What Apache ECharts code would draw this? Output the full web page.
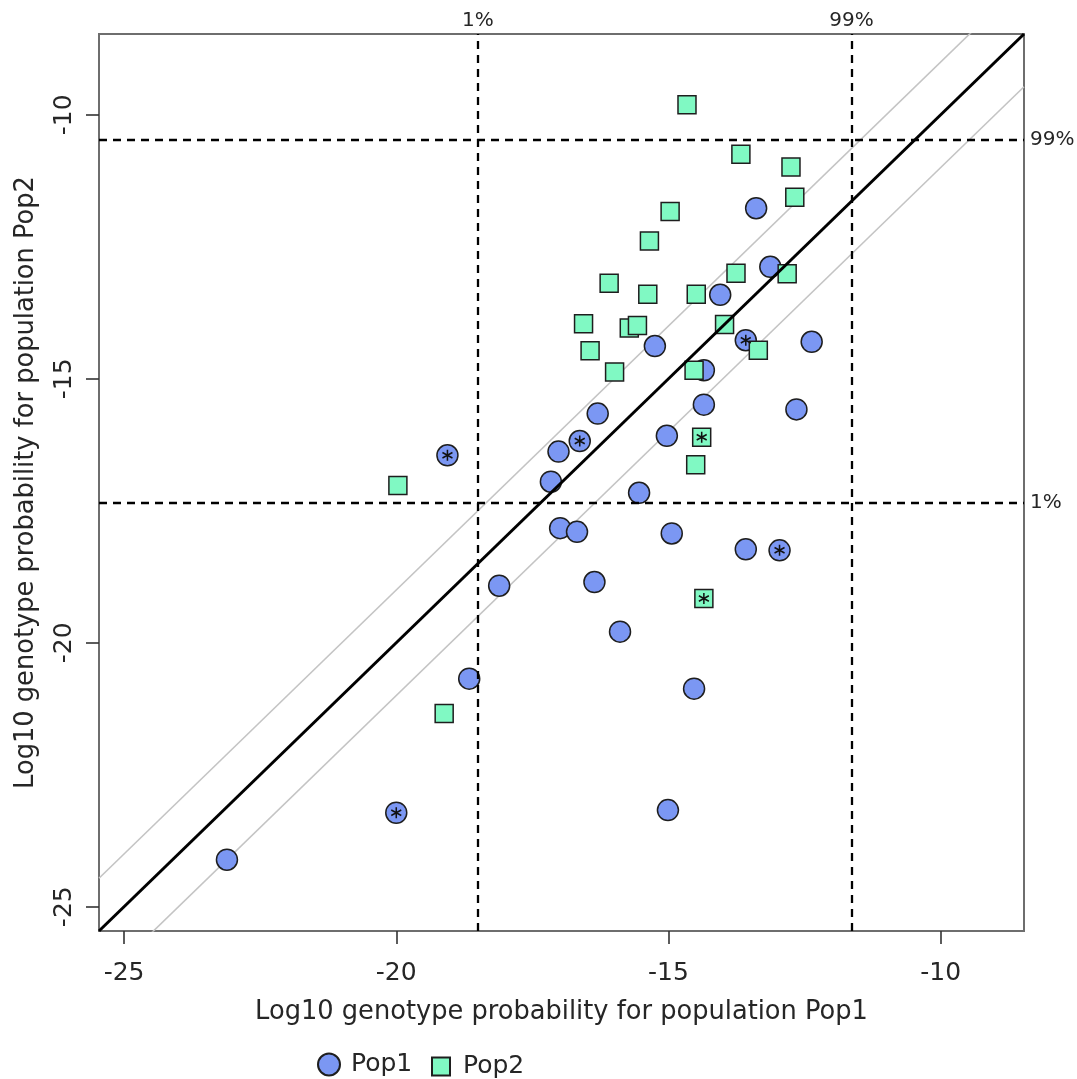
<!DOCTYPE html>
<html>
<head>
<meta charset="utf-8">
<script src="https://cdn.jsdelivr.net/npm/echarts@6/dist/echarts.min.js"></script>
<style>
  html, body { margin: 0; padding: 0; background: #fff; }
  #chart { width: 1077px; height: 1079px; }
</style>
</head>
<body>
<div id="chart"></div>
<script>
// log10 genotype probabilities, one point per individual
var pop1X = [-13.39, -13.13, -14.05, -13.58, -12.37, -15.25, -14.35, -14.35, -12.65, -16.30,
  -15.03, -16.63, -17.02, -17.16, -15.54, -16.99, -16.68, -14.94, -13.58, -12.96,
  -16.36, -15.89, -14.53, -15.01, -19.06, -18.11, -18.66, -20.00, -23.11];
var pop1Y = [-11.77, -12.88, -13.41, -14.27, -14.30, -14.38, -14.84, -15.49, -15.58, -15.66,
  -16.08, -16.18, -16.38, -16.95, -17.16, -17.83, -17.90, -17.93, -18.23, -18.25,
  -18.85, -19.79, -20.87, -23.17, -16.45, -18.92, -20.68, -23.22, -24.11];
var pop2X = [-14.66, -13.67, -12.75, -12.68, -14.97, -15.35, -13.76, -12.82, -16.09, -15.38,
  -14.49, -16.56, -15.72, -15.57, -13.97, -16.44, -13.35, -15.99, -14.53, -14.39,
  -14.50, -19.97, -19.12, -14.35];
var pop2Y = [-9.81, -10.75, -10.99, -11.56, -11.83, -12.39, -13.00, -13.01, -13.19, -13.40,
  -13.40, -13.96, -14.04, -13.99, -13.97, -14.47, -14.46, -14.87, -14.84, -16.11,
  -16.63, -17.02, -21.34, -19.16];
// indices of points marked with an asterisk
var pop1Flagged = [3, 11, 19, 24, 27];
var pop2Flagged = [19, 23];

// 1% / 99% quantile thresholds
var pop1Quantiles = [-18.50, -11.64];
var pop2Quantiles = [-17.35, -10.47];
var quantileLabels = ["1%", "99%"];

var tickValues = [-25, -20, -15, -10];
var axisMin = -25.46;
var axisMax = -8.47;
var bandOffsets = [-1, 1];

var FONT = "DejaVu Sans";
var TEXT = "#262626";

function pairs(xs, ys) {
  var out = [];
  for (var i = 0; i < xs.length; i++) out.push([xs[i], ys[i]]);
  return out;
}
function pick(xs, ys, idx) {
  return idx.map(function (i) { return [xs[i], ys[i]]; });
}
function diag(off) {
  return [[axisMin, axisMin + off], [axisMax, axisMax + off]];
}

var quantileLines = [];
for (var i = 0; i < 2; i++) {
  quantileLines.push({ xAxis: pop1Quantiles[i], label: { formatter: quantileLabels[i], distance: 3 } });
  quantileLines.push({ yAxis: pop2Quantiles[i], label: { formatter: quantileLabels[i], distance: 6 } });
}

var asterisk = "path://M5,0L5,10M0.67,2.5L9.33,7.5M0.67,7.5L9.33,2.5";

var series = [];
bandOffsets.forEach(function (off) {
  series.push({
    type: "line", data: diag(off), symbol: "none", silent: true, z: 1,
    lineStyle: { color: "#c4c4c4", width: 1.6 }
  });
});
series.push({
  name: "Pop1", type: "scatter", data: pairs(pop1X, pop1Y), z: 2,
  symbol: "circle", symbolSize: 21,
  itemStyle: { color: "#7b97f3", borderColor: "#1e1e1e", borderWidth: 1.5, opacity: 1 }
});
series.push({
  name: "Pop2", type: "scatter", data: pairs(pop2X, pop2Y), z: 3,
  symbol: "rect", symbolSize: 18,
  itemStyle: { color: "#80f9c3", borderColor: "#1e1e1e", borderWidth: 1.5, opacity: 1 }
});
series.push({
  type: "line", data: diag(0), symbol: "none", silent: true, z: 4,
  lineStyle: { color: "#000", width: 3 },
  markLine: {
    silent: true, symbol: "none", animation: false,
    lineStyle: { color: "#000", width: 2.3, type: [8, 6] },
    label: { position: "end", fontFamily: FONT, fontSize: 20, color: TEXT },
    data: quantileLines
  }
});
series.push({
  type: "scatter", z: 5, silent: true,
  data: pick(pop1X, pop1Y, pop1Flagged).concat(pick(pop2X, pop2Y, pop2Flagged)),
  symbol: asterisk, symbolSize: [10, 11],
  itemStyle: { color: "transparent", borderColor: "#111", borderWidth: 1.6, opacity: 1 }
});

var chart = echarts.init(document.getElementById("chart"), null, { renderer: "canvas" });
var option = {
  animation: false,
  backgroundColor: "#fff",
  textStyle: { fontFamily: FONT },
  grid: {
    left: 99, top: 34, width: 925, height: 897,
    show: true, borderColor: "#6e6e6e", borderWidth: 2, backgroundColor: "#fff"
  },
  legend: [
    {
      data: ["Pop1"], icon: "circle", left: 317, top: 1052,
      itemWidth: 22, itemHeight: 22, padding: 0,
      textStyle: { fontFamily: FONT, fontSize: 25, color: TEXT, padding: [0, 0, 0, 6] }
    },
    {
      data: ["Pop2"], icon: "rect", left: 431, top: 1054,
      itemWidth: 18, itemHeight: 18, padding: 0,
      textStyle: { fontFamily: FONT, fontSize: 25, color: TEXT, padding: [0, 0, 0, 8] }
    }
  ],
  xAxis: {
    type: "value", min: axisMin, max: axisMax,
    name: "Log10 genotype probability for population Pop1",
    nameLocation: "middle", nameGap: 68,
    nameTextStyle: { fontFamily: FONT, fontSize: 25.7, color: TEXT },
    axisLine: { show: false },
    axisTick: { show: true, inside: false, length: 13, customValues: tickValues,
      lineStyle: { color: "#333", width: 1.6 } },
    axisLabel: { customValues: tickValues, margin: 30, fontFamily: FONT, fontSize: 25, color: TEXT },
    splitLine: { show: false }
  },
  yAxis: {
    type: "value", min: axisMin, max: axisMax,
    name: "Log10 genotype probability for population Pop2",
    nameLocation: "middle", nameGap: 60,
    nameTextStyle: { fontFamily: FONT, fontSize: 25.7, color: TEXT },
    axisLine: { show: false },
    axisTick: { show: true, inside: false, length: 13, customValues: tickValues,
      lineStyle: { color: "#333", width: 1.6 } },
    axisLabel: { customValues: tickValues, rotate: 90, margin: 22, fontFamily: FONT, fontSize: 25, color: TEXT },
    splitLine: { show: false }
  },
  series: series
};
chart.setOption(option);
</script>
</body>
</html>
